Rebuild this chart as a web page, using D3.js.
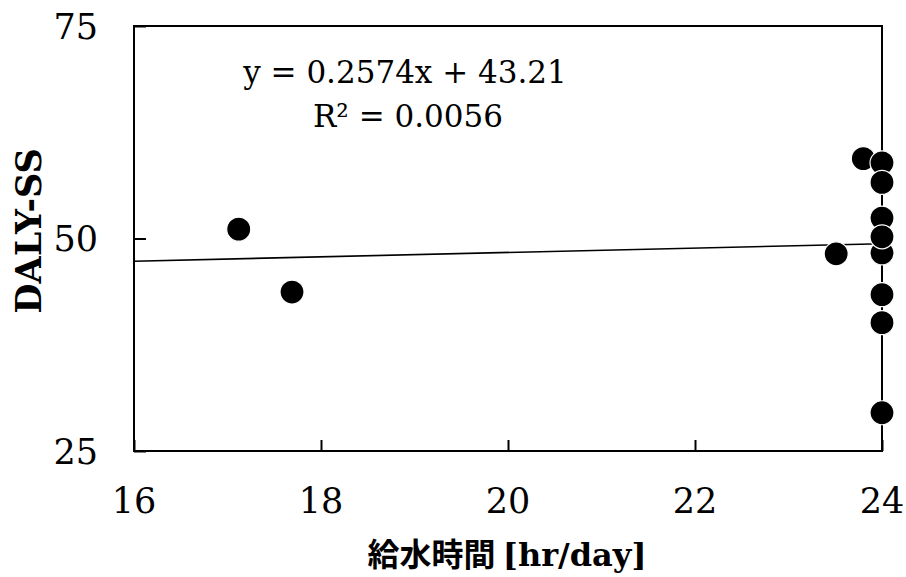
<!DOCTYPE html>
<html>
<head>
<meta charset="utf-8">
<script src="https://cdn.jsdelivr.net/npm/d3@7"></script>
<style>
  html, body { margin: 0; padding: 0; background: #fff; }
  svg { display: block; }
</style>
</head>
<body>
<svg id="chart" width="906" height="577"></svg>
<script>
// ---- data ----
const hours = [17.12, 17.69, 23.51, 23.80, 24.0, 24.0, 24.0, 24.0, 24.0, 24.0, 24.0, 24.0];
const daly  = [51.1, 43.7, 48.2, 59.4, 58.9, 56.6, 52.4, 48.3, 50.2, 43.4, 40.1, 29.5];
const xTicks = [16, 18, 20, 22, 24];
const yTicks = [25, 50, 75];
const trendSlope = 0.2574;
const trendIntercept = 43.21;
const equationLines = ["y = 0.2574x + 43.21", "R² = 0.0056"];
const xTitleJa = "給水時間";
const xTitleUnit = "[hr/day]";
const yTitle = "DALY-SS";

(function () {
// ---- layout ----
const svg = d3.select("#chart");
const pLeft = 134, pRight = 882, pTop = 26, pBottom = 451;
const x = d3.scaleLinear().domain([16, 24]).range([pLeft, pRight]);
const y = d3.scaleLinear().domain([25, 75]).range([pBottom, pTop]);
const serif = "'DejaVu Serif', serif";

// frame
svg.append("rect")
  .attr("x", pLeft).attr("y", pTop)
  .attr("width", pRight - pLeft).attr("height", pBottom - pTop)
  .attr("fill", "none").attr("stroke", "#000").attr("stroke-width", 2);

// axes with inward ticks
const xAxis = svg.append("g").attr("transform", `translate(0,${pBottom})`)
  .call(d3.axisTop(x).tickValues(xTicks).tickSize(11).tickFormat(""));
xAxis.select(".domain").remove();
xAxis.selectAll("line").attr("stroke", "#000").attr("stroke-width", 2);

const yAxis = svg.append("g").attr("transform", `translate(${pLeft},0)`)
  .call(d3.axisRight(y).tickValues(yTicks).tickSize(12).tickFormat(""));
yAxis.select(".domain").remove();
yAxis.selectAll("line").attr("stroke", "#000").attr("stroke-width", 2);

// tick labels
svg.append("g").selectAll("text").data(xTicks).join("text")
  .attr("x", d => x(d)).attr("y", 513)
  .attr("text-anchor", "middle")
  .attr("font-family", serif).attr("font-size", 35)
  .text(d => d);

svg.append("g").selectAll("text").data(yTicks).join("text")
  .attr("x", 98).attr("y", d => y(d))
  .attr("dy", "0.36em")
  .attr("text-anchor", "end")
  .attr("font-family", serif).attr("font-size", 35)
  .text(d => d);

// trendline
const line = d3.line().x(d => x(d)).y(d => y(trendSlope * d + trendIntercept));
svg.append("path")
  .datum([16, 24])
  .attr("d", line)
  .attr("fill", "none").attr("stroke", "#000").attr("stroke-width", 1.6);

// points
svg.append("g").selectAll("circle").data(hours.map((h, i) => [h, daly[i]])).join("circle")
  .attr("cx", d => x(d[0])).attr("cy", d => y(d[1]))
  .attr("r", 12)
  .attr("fill", "#000").attr("stroke", "#fff").attr("stroke-width", 1.2);

// equation
svg.append("text").attr("x", 405).attr("y", 83)
  .attr("text-anchor", "middle").attr("font-family", serif).attr("font-size", 31)
  .text(equationLines[0]);
svg.append("text").attr("x", 408).attr("y", 127)
  .attr("text-anchor", "middle").attr("font-family", serif).attr("font-size", 31)
  .text(equationLines[1]);

// x title
const xt = svg.append("text").attr("x", 507).attr("y", 566)
  .attr("text-anchor", "middle").attr("font-weight", "bold").attr("font-size", 32);
xt.append("tspan").attr("font-family", "'Noto Sans CJK JP', sans-serif").text(xTitleJa + " ");
xt.append("tspan").attr("font-family", serif).text(xTitleUnit);

// y title
svg.append("text")
  .attr("transform", "translate(41,231) rotate(-90)")
  .attr("text-anchor", "middle")
  .attr("font-family", serif).attr("font-weight", "bold").attr("font-size", 35)
  .text(yTitle);
})();
</script>
</body>
</html>
